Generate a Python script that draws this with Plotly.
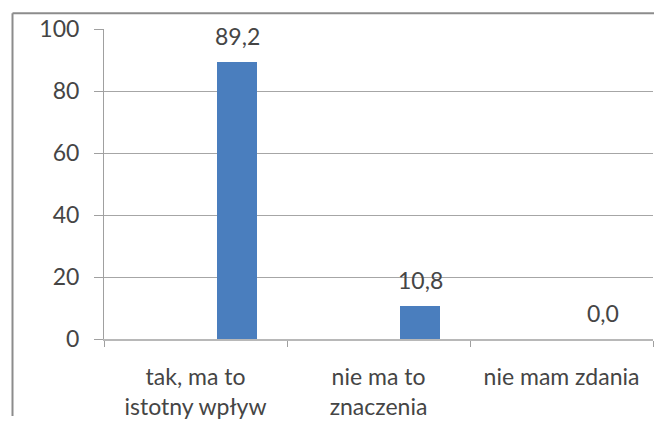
import plotly.graph_objects as go

categories = ["tak, ma to<br>istotny wpływ", "nie ma to<br>znaczenia", "nie mam zdania"]
values = [89.2, 10.8, 0.0]
labels = [f"{v:.1f}".replace(".", ",") for v in values]
ytick_vals = [0, 20, 40, 60, 80, 100]

W, H = 654, 421
L, R, T, B = 104, 1, 29, 78
pw, ph = W - L - R, H - T - B

def px_x(p):
    return (p - L) / pw

def px_y(p):
    return (H - B - p) / ph

font_family = "Lato, 'Open Sans', sans-serif"
txt_color = "#454545"
FS = 23

bar_width, bar_offset = 0.22, 0.117
shift_px = (bar_offset + bar_width / 2) * pw / len(categories)

fig = go.Figure(go.Bar(
    x=categories, y=values,
    width=bar_width, offset=bar_offset,
    marker=dict(color="#4a7ebe", line=dict(width=0)),
))

for c, v, t in zip(categories, values, labels):
    fig.add_annotation(x=c, y=v, text=t, showarrow=False, xshift=shift_px,
                       yanchor="bottom", yshift=10,
                       font=dict(family=font_family, size=FS, color=txt_color))

fig.update_layout(
    width=W, height=H,
    margin=dict(l=L, r=R, t=T, b=B),
    paper_bgcolor="white", plot_bgcolor="white",
    showlegend=False, bargap=0,
    font=dict(family=font_family, size=FS, color=txt_color),
    xaxis=dict(
        type="category", tickson="boundaries", ticks="outside", ticklen=6,
        tickcolor="#a0a0a0", showgrid=False, showline=True,
        linecolor="#b8b8b8", linewidth=2, zeroline=False,
        tickfont=dict(family=font_family, size=FS, color=txt_color),
        ticklabelstandoff=16,
    ),
    yaxis=dict(
        range=[0, 100], tickvals=ytick_vals, ticks="outside", ticklen=9,
        tickcolor="#a0a0a0", showgrid=True, gridcolor="#a6a6a6", gridwidth=1,
        showline=True, linecolor="#a0a0a0", linewidth=1, zeroline=False,
        tickfont=dict(family=font_family, size=FS, color=txt_color),
        ticklabelstandoff=10,
    ),
    shapes=[
        dict(type="line", xref="paper", yref="paper",
             x0=px_x(12.5), x1=px_x(12.5), y0=px_y(421), y1=px_y(13),
             line=dict(color="#8c8c8c", width=2)),
        dict(type="line", xref="paper", yref="paper",
             x0=px_x(12.5), x1=px_x(654), y0=px_y(13), y1=px_y(13),
             line=dict(color="#8c8c8c", width=2)),
    ],
)

fig.write_html("out.html", config={"displayModeBar": False},
               post_script="document.body.style.margin='0';")
